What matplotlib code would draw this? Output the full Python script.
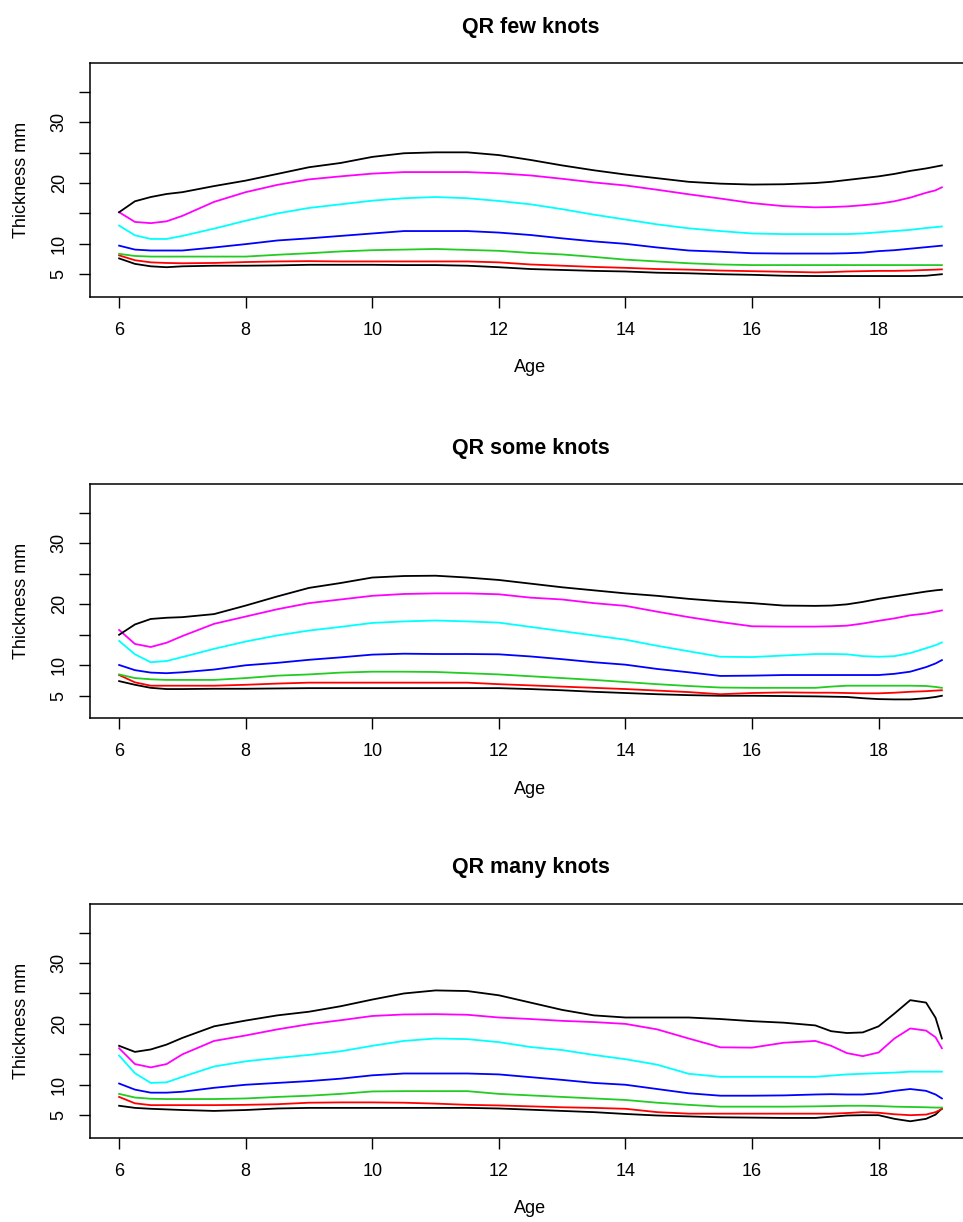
import matplotlib
matplotlib.use("Agg")
from matplotlib import pyplot as plt

plt.rcParams['font.family'] = ['Liberation Sans', 'DejaVu Sans']

ages = [6, 6.25, 6.5, 6.75, 7, 7.5, 8, 8.5, 9, 9.5, 10, 10.5, 11, 11.5, 12, 12.5,
        13, 13.5, 14, 14.5, 15, 15.5, 16, 16.5, 17, 17.25, 17.5, 17.75, 18,
        18.25, 18.5, 18.75, 18.9, 19]

# QR few knots, curves from lowest to highest
few_c03 = [7.6, 6.7, 6.3, 6.15, 6.3, 6.4, 6.4, 6.45, 6.55, 6.55, 6.55, 6.5, 6.5, 6.4, 6.15, 5.85,
           5.7, 5.55, 5.45, 5.25, 5.15, 5.0, 4.9, 4.75, 4.7, 4.7, 4.7, 4.7, 4.7,
           4.7, 4.7, 4.75, 4.9, 5.0]
few_c10 = [8.1, 7.3, 6.95, 6.85, 6.8, 6.85, 7.0, 7.1, 7.15, 7.1, 7.1, 7.1, 7.1, 7.1, 6.95, 6.6,
           6.4, 6.2, 6.05, 5.85, 5.75, 5.6, 5.5, 5.4, 5.3, 5.35, 5.45, 5.5, 5.55,
           5.55, 5.6, 5.7, 5.75, 5.8]
few_c25 = [8.35, 8.0, 7.9, 7.9, 7.9, 7.9, 7.9, 8.2, 8.45, 8.75, 8.95, 9.05, 9.15, 9.0, 8.85, 8.5,
           8.25, 7.85, 7.4, 7.1, 6.8, 6.6, 6.5, 6.5, 6.5, 6.5, 6.5, 6.5, 6.5,
           6.5, 6.5, 6.5, 6.5, 6.5]
few_c50 = [9.7, 9.05, 8.9, 8.9, 8.9, 9.4, 9.95, 10.55, 10.9, 11.3, 11.7, 12.1, 12.1, 12.1, 11.85, 11.45,
           10.9, 10.4, 10.0, 9.4, 8.9, 8.7, 8.45, 8.4, 8.4, 8.4, 8.45, 8.55, 8.8,
           8.95, 9.2, 9.45, 9.6, 9.7]
few_c75 = [13.0, 11.4, 10.8, 10.8, 11.3, 12.5, 13.8, 15.0, 15.9, 16.5, 17.1, 17.5, 17.7, 17.5, 17.05, 16.5,
           15.7, 14.8, 14.0, 13.2, 12.55, 12.1, 11.7, 11.6, 11.6, 11.6, 11.6, 11.7, 11.9,
           12.1, 12.3, 12.6, 12.75, 12.85]
few_c90 = [15.2, 13.6, 13.4, 13.7, 14.6, 16.9, 18.5, 19.7, 20.6, 21.1, 21.55, 21.8, 21.8, 21.8, 21.6, 21.25,
           20.7, 20.1, 19.6, 18.9, 18.15, 17.45, 16.7, 16.2, 16.0, 16.05, 16.15, 16.35, 16.6,
           17.0, 17.6, 18.4, 18.8, 19.3]
few_c97 = [15.2, 17.0, 17.7, 18.2, 18.5, 19.5, 20.4, 21.5, 22.6, 23.3, 24.3, 24.9, 25.05, 25.05, 24.6, 23.8,
           22.9, 22.1, 21.4, 20.8, 20.2, 19.9, 19.75, 19.8, 20.0, 20.2, 20.5, 20.8, 21.1,
           21.5, 22.0, 22.4, 22.7, 22.9]

# QR some knots
some_c03 = [7.4, 6.8, 6.3, 6.1, 6.1, 6.15, 6.15, 6.2, 6.25, 6.25, 6.25, 6.25, 6.25, 6.25, 6.25, 6.1,
            5.9, 5.65, 5.45, 5.25, 5.1, 5.0, 5.0, 4.95, 4.9, 4.85, 4.8, 4.6, 4.45,
            4.4, 4.4, 4.6, 4.8, 5.0]
some_c10 = [8.4, 7.2, 6.65, 6.65, 6.65, 6.65, 6.8, 7.0, 7.15, 7.15, 7.15, 7.15, 7.15, 7.15, 6.9, 6.7,
            6.5, 6.3, 6.1, 5.85, 5.6, 5.25, 5.45, 5.55, 5.5, 5.5, 5.45, 5.4, 5.4,
            5.5, 5.65, 5.75, 5.85, 5.9]
some_c25 = [8.5, 7.9, 7.7, 7.6, 7.6, 7.6, 7.9, 8.3, 8.5, 8.8, 8.95, 8.95, 8.9, 8.7, 8.5, 8.2,
            7.9, 7.6, 7.25, 6.9, 6.6, 6.35, 6.3, 6.3, 6.3, 6.5, 6.65, 6.65, 6.65,
            6.65, 6.65, 6.6, 6.45, 6.3]
some_c50 = [10.05, 9.2, 8.8, 8.7, 8.85, 9.3, 10.0, 10.4, 10.9, 11.3, 11.75, 11.9, 11.85, 11.85, 11.8, 11.45,
            11.0, 10.5, 10.1, 9.4, 8.85, 8.25, 8.3, 8.4, 8.4, 8.4, 8.4, 8.4, 8.4,
            8.6, 8.95, 9.7, 10.3, 10.85]
some_c75 = [14.0, 11.8, 10.5, 10.7, 11.35, 12.7, 13.9, 14.9, 15.7, 16.3, 16.95, 17.2, 17.35, 17.2, 17.0, 16.3,
            15.6, 14.9, 14.2, 13.2, 12.3, 11.4, 11.35, 11.6, 11.85, 11.85, 11.8, 11.5, 11.4,
            11.5, 12.0, 12.8, 13.3, 13.75]
some_c90 = [15.8, 13.5, 13.0, 13.7, 14.8, 16.8, 18.0, 19.2, 20.2, 20.8, 21.4, 21.7, 21.8, 21.8, 21.65, 21.1,
            20.8, 20.2, 19.75, 18.8, 17.9, 17.1, 16.4, 16.35, 16.35, 16.4, 16.5, 16.85, 17.3,
            17.7, 18.2, 18.5, 18.8, 19.0]
some_c97 = [15.0, 16.7, 17.6, 17.8, 17.9, 18.4, 19.8, 21.3, 22.7, 23.5, 24.4, 24.65, 24.7, 24.4, 24.0, 23.4,
            22.8, 22.3, 21.8, 21.4, 20.9, 20.5, 20.2, 19.8, 19.75, 19.8, 20.0, 20.4, 20.9,
            21.3, 21.7, 22.1, 22.3, 22.4]

# QR many knots
many_c03 = [6.55, 6.2, 6.05, 5.95, 5.85, 5.7, 5.85, 6.1, 6.2, 6.2, 6.2, 6.2, 6.2, 6.2, 6.1, 5.9,
            5.7, 5.5, 5.2, 4.95, 4.8, 4.65, 4.6, 4.55, 4.55, 4.75, 4.95, 5.0, 5.0,
            4.4, 4.0, 4.4, 5.1, 6.1]
many_c10 = [8.0, 6.95, 6.65, 6.65, 6.65, 6.65, 6.7, 6.8, 7.05, 7.1, 7.1, 7.05, 6.9, 6.7, 6.6, 6.45,
            6.3, 6.2, 6.05, 5.5, 5.25, 5.25, 5.25, 5.25, 5.25, 5.25, 5.35, 5.5, 5.4,
            5.15, 5.0, 5.1, 5.5, 6.0]
many_c25 = [8.5, 7.9, 7.7, 7.65, 7.65, 7.65, 7.75, 8.0, 8.2, 8.5, 8.9, 8.95, 8.95, 8.95, 8.5, 8.25,
            8.0, 7.75, 7.5, 7.05, 6.7, 6.4, 6.4, 6.4, 6.45, 6.5, 6.55, 6.55, 6.5,
            6.4, 6.35, 6.3, 6.25, 6.25]
many_c50 = [10.2, 9.2, 8.7, 8.7, 8.85, 9.5, 10.0, 10.3, 10.6, 11.0, 11.55, 11.85, 11.85, 11.85, 11.7, 11.25,
            10.8, 10.3, 10.0, 9.3, 8.6, 8.2, 8.2, 8.25, 8.4, 8.45, 8.4, 8.4, 8.6,
            9.0, 9.3, 9.0, 8.4, 7.75]
many_c75 = [14.8, 11.9, 10.3, 10.4, 11.3, 13.0, 13.85, 14.4, 14.9, 15.5, 16.4, 17.2, 17.6, 17.5, 17.0, 16.2,
            15.7, 14.9, 14.2, 13.3, 11.8, 11.3, 11.3, 11.3, 11.3, 11.5, 11.7, 11.8, 11.9,
            12.0, 12.15, 12.15, 12.15, 12.15]
many_c90 = [16.0, 13.4, 12.85, 13.4, 15.0, 17.2, 18.1, 19.1, 19.95, 20.6, 21.3, 21.55, 21.6, 21.5, 21.05, 20.8,
            20.5, 20.3, 20.0, 19.1, 17.6, 16.15, 16.1, 16.9, 17.2, 16.4, 15.2, 14.7, 15.3,
            17.6, 19.25, 18.9, 17.8, 16.0]
many_c97 = [16.4, 15.4, 15.8, 16.6, 17.7, 19.6, 20.55, 21.4, 22.0, 22.9, 24.0, 25.0, 25.5, 25.4, 24.7, 23.5,
            22.3, 21.4, 21.05, 21.05, 21.05, 20.8, 20.45, 20.2, 19.75, 18.8, 18.5, 18.6, 19.6,
            21.7, 23.9, 23.5, 21.0, 17.6]

titles = ["QR few knots", "QR some knots", "QR many knots"]
curve_colors = ["black", "#FF0000", "#22CC22", "#0000FF", "#00FFFF", "#FF00FF", "black"]
y_ticks = [5, 10, 15, 20, 25, 30, 35]
y_tick_labels = ["5", "10", "", "20", "", "30", ""]
x_ticks = [6, 8, 10, 12, 14, 16, 18]

panels = [
    [few_c03, few_c10, few_c25, few_c50, few_c75, few_c90, few_c97],
    [some_c03, some_c10, some_c25, some_c50, some_c75, some_c90, some_c97],
    [many_c03, many_c10, many_c25, many_c50, many_c75, many_c90, many_c97],
]

W, H = 963, 1222
fig = plt.figure(figsize=(W / 100, H / 100), dpi=100)

# panel boxes in pixels (top, bottom); right side runs off the picture
boxes = [(63.3, 296.7), (484.3, 718.3), (904.0, 1137.7)]
left_px, right_px = 90, 971

for title, curves, (top, bottom) in zip(titles, panels, boxes):
    ax = fig.add_axes([left_px / W, 1 - bottom / H, (right_px - left_px) / W, (bottom - top) / H])
    for vals, col in zip(curves, curve_colors):
        ax.plot(ages, vals, color=col, lw=1.3, solid_joinstyle="round")
    ax.set_xticks(x_ticks)
    ax.set_xticklabels([str(t) for t in x_ticks])
    ax.set_yticks(y_ticks)
    ax.set_yticklabels(y_tick_labels, rotation=90, va="center")
    # limits after the ticks so set_ticks cannot widen them
    ax.set_xlim(5.54, 19.46)
    ax.set_ylim(1.3, 39.7)
    ax.tick_params(axis="both", length=8, width=1.0, labelsize=13, colors="black")
    ax.tick_params(axis="x", pad=10)
    ax.tick_params(axis="y", pad=8)
    for side in ["left", "bottom", "top"]:
        ax.spines[side].set_linewidth(1.1)
    ax.spines["right"].set_visible(False)
    ax.set_title(title, fontsize=15.5, fontweight="bold", pad=22)
    ax.annotate("Age", xy=(0.5, 0), xycoords="axes fraction", xytext=(0, -71 * 0.72),
                textcoords="offset points", ha="center", va="center", fontsize=13)
    ax.annotate("Thickness mm", xy=(0, 0.5), xycoords="axes fraction",
                xytext=(-(left_px - 21.7) * 0.72, 0), textcoords="offset points",
                ha="center", va="center", rotation=90, fontsize=13)

fig.savefig("out.png", dpi=100)
